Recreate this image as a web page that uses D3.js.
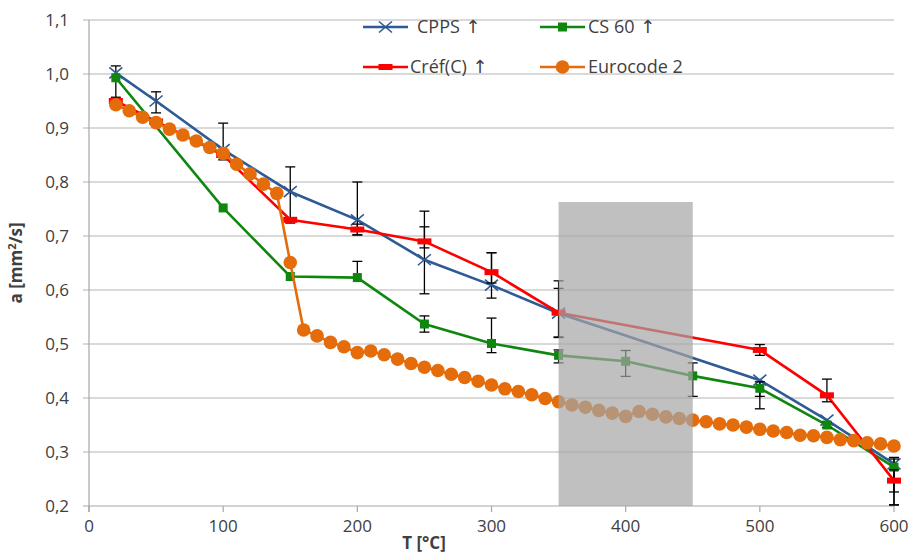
<!DOCTYPE html>
<html><head><meta charset="utf-8">
<script src="https://cdn.jsdelivr.net/npm/d3@7"></script>
<style>body{margin:0;background:#fff}svg{display:block;font-family:"Open Sans","Noto Sans",sans-serif}</style>
</head><body><svg id="c" width="914" height="554"></svg>
<script>
const xTicks = [0,100,200,300,400,500,600];
const yTicks = [0.2,0.3,0.4,0.5,0.6,0.7,0.8,0.9,1.0,1.1];

const cppsT = [20,50,100,150,200,250,300,350,500,550,600];
const cppsV = [1.002,0.950,0.860,0.782,0.730,0.656,0.609,0.557,0.433,0.359,0.278];
const cppsErrPlus  = [0.013,0.017,0.049,0.046,0.070,0.090,0.060,0.060,0.000,0.000,0.012];
const cppsErrMinus = [0.045,0.022,0.019,0.058,0.028,0.063,0.024,0.045,0.030,0.000,0.052];

const cs60T = [20,100,150,200,250,300,350,400,450,500,550,600];
const cs60V = [0.993,0.752,0.625,0.623,0.537,0.501,0.479,0.468,0.441,0.418,0.350,0.272];
const cs60ErrPlus  = [0.000,0.000,0.000,0.030,0.015,0.047,0.010,0.020,0.024,0.012,0.005,0.015];
const cs60ErrMinus = [0.000,0.000,0.000,0.000,0.015,0.017,0.014,0.028,0.038,0.038,0.005,0.070];

const crefT = [20,50,100,150,200,250,300,350,500,550,600];
const crefV = [0.950,0.912,0.850,0.730,0.712,0.690,0.633,0.558,0.489,0.405,0.247];
const crefErrPlus  = [0.000,0.000,0.000,0.000,0.010,0.027,0.036,0.045,0.010,0.030,0.020];
const crefErrMinus = [0.000,0.000,0.000,0.000,0.010,0.012,0.020,0.045,0.010,0.012,0.045];

const euroT = [20,30,40,50,60,70,80,90,100,110,120,130,140,150,160,170,180,190,200,210,220,230,240,250,260,270,280,290,300,310,320,330,340,350,360,370,380,390,400,410,420,430,440,450,460,470,480,490,500,510,520,530,540,550,560,570,580,590,600];
const euroV = [0.943,0.932,0.920,0.910,0.898,0.887,0.876,0.864,0.853,0.833,0.815,0.796,0.779,0.651,0.526,0.515,0.503,0.495,0.484,0.487,0.480,0.472,0.464,0.457,0.451,0.444,0.438,0.431,0.424,0.417,0.412,0.406,0.399,0.393,0.387,0.383,0.377,0.372,0.366,0.375,0.370,0.365,0.362,0.359,0.356,0.352,0.350,0.346,0.342,0.339,0.336,0.331,0.330,0.327,0.323,0.321,0.317,0.315,0.311];

const bandRange = [350,450];
const bandTop = 0.763;

const legendNames = ["CPPS","CS 60","Créf(C)","Eurocode 2"];
const legendArrow = [true,true,true,false];
const colors = {cpps:"#2e5a95", cs60:"#0f870f", cref:"#ff0000", euro:"#e46c0a"};

const svg = d3.select("#c");
const x = d3.scaleLinear().domain([0,600]).range([89,894]);
const y = d3.scaleLinear().domain([0.2,1.1]).range([506,20]);
const fmt = v => d3.format(".1f")(v).replace(".",",");
const txt = "#404040";

// gridlines
svg.append("g").selectAll("line").data(yTicks).join("line")
  .attr("x1",x(0)-6).attr("x2",x(600)).attr("y1",d=>y(d)).attr("y2",d=>y(d))
  .attr("stroke",d=>d===0.2?"#a6a6a6":"#b3b3b3").attr("stroke-width",1.2);
svg.append("line").attr("x1",x(0)).attr("x2",x(0)).attr("y1",y(1.1)).attr("y2",y(0.2)+6)
  .attr("stroke","#a6a6a6").attr("stroke-width",1.2);
svg.append("g").selectAll("line").data(xTicks).join("line")
  .attr("x1",d=>x(d)).attr("x2",d=>x(d)).attr("y1",y(0.2)).attr("y2",y(0.2)+6)
  .attr("stroke","#a6a6a6").attr("stroke-width",1.2);
svg.append("g").selectAll("text").data(yTicks).join("text")
  .attr("x",x(0)-20).attr("y",d=>y(d)).attr("dy","0.35em").attr("text-anchor","end")
  .attr("font-size",17).attr("fill",txt).text(fmt);
svg.append("g").selectAll("text").data(xTicks).join("text")
  .attr("x",d=>x(d)).attr("y",y(0.2)+26).attr("text-anchor","middle")
  .attr("font-size",17).attr("fill",txt).text(d=>d);
svg.append("text").attr("x",424).attr("y",549).attr("text-anchor","middle")
  .attr("font-size",17).attr("font-weight","bold").attr("fill",txt).text("T [°C]");
svg.append("text").attr("transform",`translate(22,${(y(0.2)+y(1.1))/2}) rotate(-90)`)
  .attr("text-anchor","middle").attr("font-size",17).attr("font-weight","bold").attr("fill",txt)
  .html('a [mm<tspan dy="-6" font-size="11">2</tspan><tspan dy="6">/s]</tspan>');

const line = d3.line().x(d=>x(d[0])).y(d=>y(d[1]));
const zip = (t,v)=>t.map((d,i)=>[d,v[i]]);

function errorBars(T,V,P,M){
  const g = svg.append("g").attr("stroke","#000").attr("stroke-width",1.3);
  T.forEach((t,i)=>{
    const cx = x(t);
    if(P[i]>0){
      g.append("line").attr("x1",cx).attr("x2",cx).attr("y1",y(V[i])).attr("y2",y(V[i]+P[i]));
      g.append("line").attr("x1",cx-5).attr("x2",cx+5).attr("y1",y(V[i]+P[i])).attr("y2",y(V[i]+P[i]));
    }
    if(M[i]>0){
      g.append("line").attr("x1",cx).attr("x2",cx).attr("y1",y(V[i])).attr("y2",y(V[i]-M[i]));
      g.append("line").attr("x1",cx-5).attr("x2",cx+5).attr("y1",y(V[i]-M[i])).attr("y2",y(V[i]-M[i]));
    }
  });
}
function xMarker(g,cx,cy,c){
  g.append("path").attr("d",`M${cx-6.5},${cy-5.5}L${cx+6.5},${cy+5.5}M${cx-6.5},${cy+5.5}L${cx+6.5},${cy-5.5}`)
    .attr("stroke",c).attr("stroke-width",1.6).attr("fill","none");
}
function sqMarker(g,cx,cy,c){ g.append("rect").attr("x",cx-4.5).attr("y",cy-4.5).attr("width",9).attr("height",9).attr("fill",c); }
function dashMarker(g,cx,cy,c){ g.append("rect").attr("x",cx-7).attr("y",cy-3).attr("width",14).attr("height",6).attr("fill",c); }
function dotMarker(g,cx,cy,c){ g.append("circle").attr("cx",cx).attr("cy",cy).attr("r",6.8).attr("fill",c); }

svg.append("path").datum(zip(cppsT,cppsV)).attr("d",line).attr("fill","none").attr("stroke",colors.cpps).attr("stroke-width",2.6);
errorBars(cppsT,cppsV,cppsErrPlus,cppsErrMinus);
{const g=svg.append("g"); cppsT.forEach((t,i)=>xMarker(g,x(t),y(cppsV[i]),colors.cpps));}
svg.append("path").datum(zip(cs60T,cs60V)).attr("d",line).attr("fill","none").attr("stroke",colors.cs60).attr("stroke-width",2.6);
errorBars(cs60T,cs60V,cs60ErrPlus,cs60ErrMinus);
{const g=svg.append("g"); cs60T.forEach((t,i)=>sqMarker(g,x(t),y(cs60V[i]),colors.cs60));}
svg.append("path").datum(zip(crefT,crefV)).attr("d",line).attr("fill","none").attr("stroke",colors.cref).attr("stroke-width",2.6);
errorBars(crefT,crefV,crefErrPlus,crefErrMinus);
{const g=svg.append("g"); crefT.forEach((t,i)=>dashMarker(g,x(t),y(crefV[i]),colors.cref));}
svg.append("path").datum(zip(euroT,euroV)).attr("d",line).attr("fill","none").attr("stroke",colors.euro).attr("stroke-width",2.6);
{const g=svg.append("g"); euroT.forEach((t,i)=>dotMarker(g,x(t),y(euroV[i]),colors.euro));}

svg.append("rect").attr("x",x(bandRange[0])).attr("width",x(bandRange[1])-x(bandRange[0]))
  .attr("y",y(bandTop)).attr("height",y(0.2)-y(bandTop)).attr("fill","#a5a5a5").attr("opacity",0.7);

const leg = [
  {c:colors.cpps, m:xMarker, lx:363, ly:27, tx:417},
  {c:colors.cs60, m:sqMarker, lx:540, ly:27, tx:588},
  {c:colors.cref, m:dashMarker, lx:363, ly:67, tx:410},
  {c:colors.euro, m:dotMarker, lx:540, ly:67, tx:588}
];
const lg = svg.append("g");
leg.forEach((d,i)=>{
  lg.append("line").attr("x1",d.lx).attr("x2",d.lx+45).attr("y1",d.ly).attr("y2",d.ly).attr("stroke",d.c).attr("stroke-width",2.6);
  d.m(lg,d.lx+22.5,d.ly,d.c);
  const t = lg.append("text").attr("x",d.tx).attr("y",d.ly).attr("dy","0.36em").attr("font-size",18).attr("fill",txt).text(legendNames[i]);
  if(legendArrow[i]) t.append("tspan").attr("font-family","DejaVu Sans").text(" \u2191");
});
</script></body></html>
